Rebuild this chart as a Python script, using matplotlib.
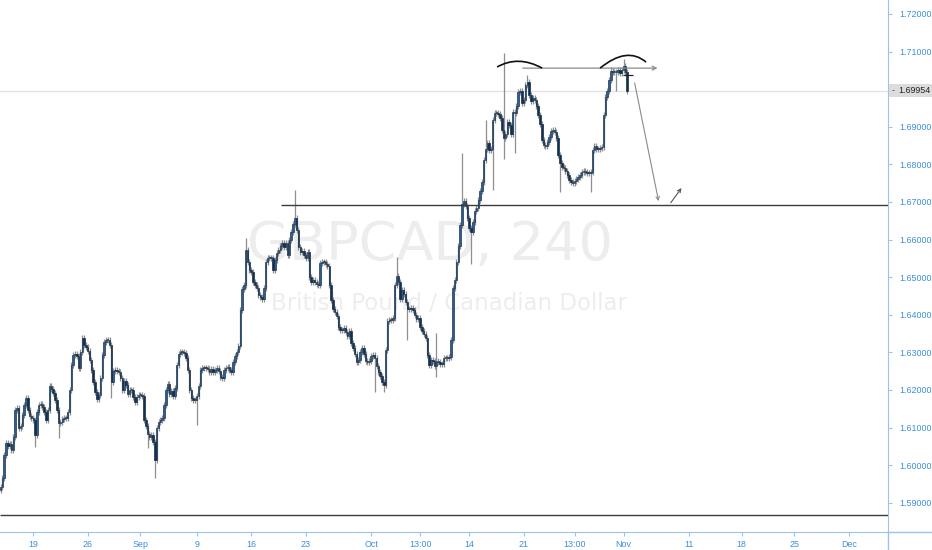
import matplotlib
matplotlib.use('Agg')
import matplotlib.pyplot as plt
import numpy as np
from matplotlib.path import Path
from matplotlib.patches import PathPatch, Rectangle
from matplotlib.lines import Line2D

# ---------------- data (GBPCAD, 4h candles, closes) ----------------
closes = [
    1.5942, 1.5966, 1.6027, 1.6059, 1.6051, 1.6056, 1.6040, 1.6075, 1.6147, 1.6152,
    1.6099, 1.6104, 1.6133, 1.6160, 1.6179, 1.6147, 1.6131, 1.6126, 1.6120, 1.6080,
    1.6141, 1.6160, 1.6163, 1.6155, 1.6141, 1.6120, 1.6147, 1.6211, 1.6203, 1.6192,
    1.6173, 1.6147, 1.6112, 1.6115, 1.6123, 1.6126, 1.6126, 1.6141, 1.6200, 1.6266,
    1.6293, 1.6295, 1.6290, 1.6258, 1.6301, 1.6338, 1.6320, 1.6314, 1.6304, 1.6280,
    1.6253, 1.6221, 1.6195, 1.6176, 1.6187, 1.6232, 1.6293, 1.6328, 1.6333, 1.6333,
    1.6320, 1.6221, 1.6250, 1.6253, 1.6250, 1.6248, 1.6232, 1.6200, 1.6224, 1.6213,
    1.6189, 1.6200, 1.6200, 1.6181, 1.6168, 1.6181, 1.6187, 1.6187, 1.6184, 1.6120,
    1.6104, 1.6083, 1.6075, 1.6080, 1.6062, 1.6014, 1.6099, 1.6115, 1.6120, 1.6126,
    1.6160, 1.6200, 1.6216, 1.6189, 1.6197, 1.6184, 1.6205, 1.6266, 1.6295, 1.6301,
    1.6301, 1.6298, 1.6285, 1.6253, 1.6200, 1.6179, 1.6173, 1.6173, 1.6184, 1.6211,
    1.6253, 1.6258, 1.6258, 1.6258, 1.6256, 1.6248, 1.6256, 1.6248, 1.6253, 1.6258,
    1.6250, 1.6234, 1.6232, 1.6253, 1.6258, 1.6261, 1.6253, 1.6248, 1.6274, 1.6290,
    1.6301, 1.6317, 1.6413, 1.6469, 1.6479, 1.6572, 1.6540, 1.6519, 1.6514, 1.6487,
    1.6479, 1.6471, 1.6453, 1.6447, 1.6442, 1.6471, 1.6540, 1.6551, 1.6551, 1.6551,
    1.6519, 1.6546, 1.6564, 1.6572, 1.6583, 1.6591, 1.6580, 1.6591, 1.6559, 1.6599,
    1.6620, 1.6641, 1.6657, 1.6626, 1.6580, 1.6567, 1.6570, 1.6559, 1.6551, 1.6567,
    1.6500, 1.6487, 1.6492, 1.6487, 1.6482, 1.6479, 1.6538, 1.6540, 1.6540, 1.6535,
    1.6530, 1.6479, 1.6439, 1.6415, 1.6407, 1.6397, 1.6367, 1.6360, 1.6360, 1.6365,
    1.6354, 1.6344, 1.6357, 1.6325, 1.6312, 1.6295, 1.6274, 1.6280, 1.6301, 1.6312,
    1.6295, 1.6277, 1.6274, 1.6277, 1.6290, 1.6293, 1.6285, 1.6264, 1.6248, 1.6237,
    1.6221, 1.6213, 1.6306, 1.6383, 1.6386, 1.6386, 1.6391, 1.6479, 1.6503, 1.6487,
    1.6442, 1.6466, 1.6455, 1.6434, 1.6415, 1.6415, 1.6418, 1.6413, 1.6399, 1.6389,
    1.6391, 1.6367, 1.6357, 1.6349, 1.6338, 1.6293, 1.6266, 1.6280, 1.6277, 1.6264,
    1.6277, 1.6274, 1.6269, 1.6269, 1.6285, 1.6285, 1.6285, 1.6288, 1.6333, 1.6471,
    1.6492, 1.6540, 1.6583, 1.6639, 1.6694, 1.6703, 1.6689, 1.6657, 1.6631, 1.6620,
    1.6647, 1.6676, 1.6684, 1.6705, 1.6729, 1.6753, 1.6812, 1.6841, 1.6857, 1.6838,
    1.6841, 1.6918, 1.6937, 1.6937, 1.6934, 1.6923, 1.6892, 1.6870, 1.6881, 1.6913,
    1.6905, 1.6881, 1.6939, 1.6937, 1.6955, 1.6993, 1.6995, 1.6963, 1.6971, 1.7011,
    1.7019, 1.6985, 1.6969, 1.6977, 1.6971, 1.6955, 1.6931, 1.6907, 1.6865, 1.6852,
    1.6849, 1.6860, 1.6873, 1.6889, 1.6892, 1.6886, 1.6870, 1.6825, 1.6804, 1.6793,
    1.6790, 1.6782, 1.6772, 1.6758, 1.6753, 1.6750, 1.6756, 1.6761, 1.6767, 1.6772,
    1.6780, 1.6782, 1.6780, 1.6777, 1.6777, 1.6780, 1.6838, 1.6849, 1.6841, 1.6841,
    1.6844, 1.6846, 1.6931, 1.6979, 1.6995, 1.7024, 1.7048, 1.7046, 1.7046, 1.7046,
    1.7051, 1.7043, 1.7051, 1.7061, 1.7046, 1.69954,
]
first_open = 1.5935

# notable wick extremes (candle index -> price)
spike_high = {135: 1.6604, 162: 1.6732, 218: 1.6554, 240: 1.6352, 254: 1.6830,
              267: 1.6918, 277: 1.7096, 290: 1.7038, 336: 1.7058, 343: 1.7080}
spike_low = {19: 1.6048, 32: 1.6073, 61: 1.6179, 81: 1.6045, 85: 1.5966,
             108: 1.6107, 206: 1.6195, 211: 1.6195, 224: 1.6333, 240: 1.6234,
             259: 1.6535, 271: 1.6731, 277: 1.6815, 283: 1.6830, 308: 1.6727,
             325: 1.6727, 339: 1.6994}

last_price = 1.69954
support_level = 1.6692
bottom_level = 1.5868
neckline_level = 1.7056

price_ticks = [1.59, 1.60, 1.61, 1.62, 1.63, 1.64, 1.65, 1.66, 1.67, 1.68, 1.69, 1.70, 1.71, 1.72]
date_tick_idx = [18, 48, 77, 108, 138, 168, 204, 231, 258, 288, 316, 343, 379, 408, 437, 467]
date_tick_lbl = ['19', '26', 'Sep', '9', '16', '23', 'Oct', '13:00', '14', '21', '13:00',
                 'Nov', '11', '18', '25', 'Dec']

# ---------------- figure ----------------
W, H = 932, 550
fig = plt.figure(figsize=(W / 100, H / 100), dpi=100)
fig.patch.set_facecolor('white')
ax = fig.add_axes([0, 18 / H, 888 / W, 532 / H])
ax.set_facecolor('white')

n = len(closes)
x = np.arange(n)
c = np.array(closes)
o = np.array([first_open] + closes[:-1])
wick = 0.0008
hi = np.maximum(o, c) + wick
lo = np.minimum(o, c) - wick
for k, v in spike_high.items():
    hi[k] = max(hi[k], v)
for k, v in spike_low.items():
    lo[k] = min(lo[k], v)

ax.set_xlim(-0.3, 488.6)
ax.set_ylim(1.58223, 1.72372)

# watermark
ax.text(0.484, 1.6585, 'GBPCAD, 240', transform=ax.get_yaxis_transform(),
        fontsize=39, color='#ededed', ha='center', va='center', zorder=0)
ax.text(0.506, 1.6430, 'British Pound / Canadian Dollar', transform=ax.get_yaxis_transform(),
        fontsize=16.5, color='#ededed', ha='center', va='center', zorder=0)

# last price line
ax.axhline(last_price, color='#e3e3e3', lw=1, zorder=1)

# candles
ax.vlines(x, lo, hi, color='#8f8f8f', lw=0.9, zorder=2)
up = c >= o
body_h = np.maximum(np.abs(c - o), 0.00022)
body_b = np.minimum(o, c)
ax.bar(x[up], body_h[up], bottom=body_b[up], width=0.8, color='#2f5e8c',
       edgecolor='#1b3a5a', lw=0.5, zorder=3)
ax.bar(x[~up], body_h[~up], bottom=body_b[~up], width=0.8, color='#15304c',
       edgecolor='#15304c', lw=0.5, zorder=3)

# drawings
ax.hlines(support_level, 154.5, 488.6, color='#3c3c3c', lw=1, zorder=4)
ax.hlines(bottom_level, -0.3, 488.6, color='#3c3c3c', lw=1, zorder=4)
ax.annotate('', xy=(363.2, neckline_level), xytext=(286.0, neckline_level),
            arrowprops=dict(arrowstyle='->', color='#8a8a8a', lw=0.9,
                            mutation_scale=7), zorder=4)

def quad(p0, p1, p2):
    path = Path([p0, p1, p2], [Path.MOVETO, Path.CURVE3, Path.CURVE3])
    return PathPatch(path, fill=False, color='#111111', lw=1.2, zorder=5)

ax.add_patch(quad((273.4, 1.7059), (285.0, 1.7091), (298.2, 1.7056)))
ax.add_patch(quad((330.1, 1.7056), (345.0, 1.7115), (355.4, 1.7072)))
ax.hlines(1.7038, 342.5, 348.3, color='#222222', lw=0.9, zorder=5)

ax.annotate('', xy=(362.6, 1.6695), xytext=(348.8, 1.7024),
            arrowprops=dict(arrowstyle='->', color='#8a8a8a', lw=0.8,
                            mutation_scale=6), zorder=5)
ax.annotate('', xy=(375.8, 1.6743), xytext=(368.1, 1.6692),
            arrowprops=dict(arrowstyle='->', color='#555555', lw=0.8,
                            mutation_scale=6), zorder=5)

# axes styling
blue = '#3b8ddf'
axis_c = '#9cc3ea'
lab_font = 'Liberation Sans'
for s in ['top', 'left']:
    ax.spines[s].set_visible(False)
ax.spines['right'].set_color(axis_c)
ax.spines['bottom'].set_color(axis_c)
ax.yaxis.tick_right()
ax.set_yticks(price_ticks)
ax.set_yticklabels(['{:.5f}'.format(v) for v in price_ticks], family=lab_font)
ax.tick_params(axis='y', colors=axis_c, labelcolor=blue, labelsize=6.4, length=3, pad=5)
ax.set_xticks(date_tick_idx)
ax.set_xticklabels(date_tick_lbl, family=lab_font)
ax.tick_params(axis='x', colors=axis_c, labelcolor=blue, labelsize=6.4, length=3, pad=3)

# last-price label box on the price scale
ytop = ax.transData.transform((0, last_price))[1]
fig.add_artist(Rectangle((889 / W, (ytop - 6.5) / H), 43 / W, 13 / H,
                         transform=fig.transFigure, facecolor='#dcdcdc',
                         edgecolor='none', zorder=10))
fig.text(892 / W, ytop / H, '-', fontsize=6.4, color='#444444', va='center', ha='left',
         family=lab_font, zorder=11)
fig.text(898 / W, ytop / H, '{:.5f}'.format(last_price), fontsize=6.4, color='#222222',
         va='center', ha='left', family=lab_font, zorder=11)

# axis extensions beyond plot corner
fig.add_artist(Line2D([888 / W, 888 / W], [0, 18 / H], color=axis_c, lw=1))
fig.add_artist(Line2D([888 / W, 1], [18 / H, 18 / H], color=axis_c, lw=1))

fig.savefig('out.png', dpi=100)
